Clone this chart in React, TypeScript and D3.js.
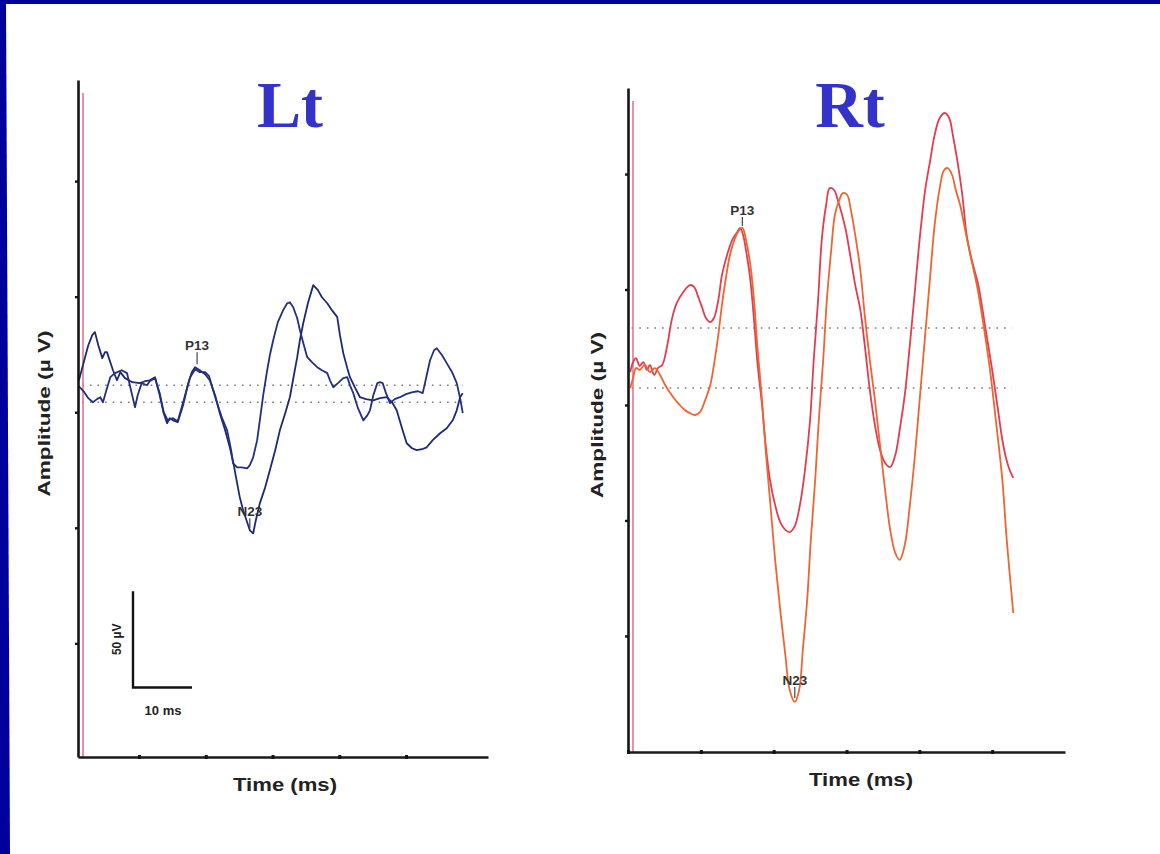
import React, { useEffect, useRef } from "react";
import * as d3 from "d3";

// sweeps are [time (ms), amplitude (µV)]
const ltSweepA: [number, number][] = [
  [1.0, 16.6], [1.8, 27.0], [2.4, 34.8], [3.0, 40.0], [3.4, 41.6], [3.9, 34.8], [4.5, 28.1], [4.9, 31.2],
  [5.2, 31.2], [5.7, 26.0], [6.1, 21.8], [6.7, 16.6], [7.2, 20.8], [7.9, 17.7], [9.0, 15.6], [10.1, 15.1],
  [10.9, 16.1], [11.6, 16.6], [12.4, 18.2], [13.1, 8.8], [13.7, -0.5], [14.2, -5.7], [14.6, -3.1], [15.1, -4.2],
  [15.8, -5.2], [16.6, 3.6], [17.3, 14.0], [17.9, 20.8], [18.4, 23.4], [19.1, 21.8], [19.9, 19.7], [20.6, 16.6],
  [21.4, 8.8], [22.1, -0.5], [22.9, -9.4], [23.6, -18.2], [24.2, -27.5], [24.7, -36.9], [25.1, -44.2], [25.6, -50.9],
  [26.2, -57.1], [26.6, -61.3], [27.1, -62.9], [27.5, -56.1], [28.1, -47.3], [28.9, -39.0], [29.6, -30.1], [30.4, -19.7],
  [31.1, -9.4], [31.9, -0.5], [32.6, 7.8], [33.2, 19.2], [33.7, 28.6], [34.1, 37.4], [34.6, 46.2], [35.3, 56.6],
  [36.1, 66.0], [36.8, 63.4], [37.4, 59.7], [38.2, 56.6], [38.9, 53.0], [39.7, 49.4], [40.1, 40.0], [40.6, 30.7],
  [41.2, 22.9], [41.6, 18.2], [42.4, 12.5], [43.1, 7.8], [44.0, 6.8], [45.1, 6.2], [46.1, 7.3], [47.1, 7.8],
  [47.9, 5.2], [48.6, 1.0], [49.4, -8.3], [50.1, -16.1], [50.9, -18.7], [51.6, -19.7], [52.4, -19.2], [53.1, -18.2],
  [54.0, -14.5], [55.1, -10.9], [56.1, -8.3], [57.0, -4.2], [57.6, 1.0], [58.1, 7.8], [58.5, 9.9],
];
const ltSweepB: [number, number][] = [
  [1.0, 13.5], [1.8, 10.4], [2.4, 7.3], [3.1, 5.2], [3.7, 6.8], [4.2, 7.8], [4.6, 5.2], [5.2, 12.5],
  [5.7, 18.2], [6.4, 20.3], [7.4, 21.8], [8.2, 20.3], [8.8, 11.4], [9.4, 2.6], [9.8, 8.8], [10.4, 15.1],
  [11.2, 14.0], [11.6, 16.1], [12.4, 17.7], [13.1, 9.9], [13.7, 0], [14.3, -4.2], [15.1, -3.1], [15.8, -4.7],
  [16.7, 6.2], [17.6, 17.7], [18.4, 22.3], [19.1, 20.8], [19.9, 20.8], [20.5, 18.7], [21.1, 11.4], [21.7, 4.7],
  [22.4, -2.6], [23.2, -9.4], [23.8, -19.7], [24.1, -26.5], [24.7, -28.6], [25.4, -28.6], [26.2, -29.1], [26.6, -27.5],
  [27.1, -23.4], [27.7, -14.5], [28.1, -4.2], [28.6, 8.8], [29.2, 21.8], [29.6, 29.6], [30.1, 37.4], [30.8, 46.8],
  [31.6, 53.0], [32.2, 56.6], [32.6, 57.1], [33.1, 54.5], [33.7, 48.8], [34.1, 42.6], [34.7, 34.8], [35.2, 28.6],
  [35.9, 26.0], [36.7, 23.4], [37.4, 21.8], [38.2, 20.3], [38.6, 16.6], [39.1, 13.0], [39.8, 15.1], [40.6, 17.7],
  [41.2, 18.2], [41.6, 14.0], [42.1, 9.9], [42.8, 2.1], [43.6, -4.2], [44.2, -1.6], [44.6, 1.0], [45.1, 8.8],
  [45.7, 15.1], [46.1, 15.6], [46.5, 15.1], [47.0, 9.9], [47.6, 4.7], [48.3, 6.8], [49.1, 7.8], [50.0, 9.4],
  [51.0, 10.4], [51.8, 10.9], [52.5, 9.9], [53.1, 19.2], [53.6, 27.0], [54.2, 32.2], [54.6, 33.2], [55.4, 29.6],
  [56.1, 25.5], [56.9, 20.8], [57.6, 15.1], [58.1, 7.3], [58.5, -0.5],
];
const rtSweepA: [number, number][] = [
  [0.3, 17.1], [0.7, 22.3], [1.1, 24.4], [1.6, 20.3], [2.1, 22.3], [2.6, 18.2], [3.0, 20.8], [3.6, 15.6],
  [4.1, 19.2], [4.7, 20.8], [5.4, 31.2], [6.0, 44.2], [6.7, 53.0], [7.6, 58.7], [8.5, 62.3], [9.1, 61.3],
  [9.6, 56.6], [10.2, 50.4], [10.7, 45.2], [11.3, 43.1], [11.8, 45.2], [12.4, 54.5], [12.9, 67.5], [13.6, 77.9],
  [14.3, 85.7], [15.0, 89.9], [15.4, 92.0], [15.8, 88.3], [16.2, 80.5], [16.8, 64.9], [17.3, 44.2], [17.8, 20.8],
  [18.4, 0], [18.9, -20.8], [19.5, -39.0], [20.2, -52.0], [20.9, -60.8], [21.6, -64.9], [22.2, -66.0], [22.9, -62.9],
  [23.6, -52.0], [24.3, -33.8], [25.0, -7.8], [25.5, 23.4], [26.1, 54.5], [26.6, 85.7], [27.2, 103.9], [27.7, 112.7],
  [28.3, 111.7], [28.8, 106.5], [29.4, 98.7], [29.9, 90.9], [30.5, 77.9], [31.2, 62.3], [31.9, 49.4], [32.5, 31.2],
  [33.2, 7.8], [33.9, -10.4], [34.6, -23.4], [35.3, -30.1], [36.0, -32.2], [36.7, -26.0], [37.3, -13.0], [38.0, 5.2],
  [38.7, 31.2], [39.4, 59.7], [40.1, 88.3], [40.8, 111.7], [41.5, 127.3], [42.1, 140.3], [42.8, 149.1], [43.5, 151.7],
  [44.1, 149.1], [44.6, 140.3], [45.2, 127.3], [45.9, 109.1], [46.5, 88.3], [47.2, 75.3], [48.1, 62.3], [49.0, 41.6],
  [50.0, 18.2], [50.8, -2.6], [51.4, -18.2], [51.9, -27.5], [52.4, -33.8], [52.9, -37.9],
];
const rtSweepB: [number, number][] = [
  [0.3, 8.8], [0.7, 14.0], [1.1, 19.2], [1.6, 18.2], [2.3, 20.8], [3.0, 17.1], [3.7, 19.2], [4.4, 15.6],
  [5.1, 10.4], [5.8, 6.2], [6.5, 2.6], [7.1, 0], [7.8, -2.6], [8.5, -4.2], [9.2, -5.2], [9.9, -3.6],
  [10.6, 2.6], [11.3, 10.4], [11.8, 20.8], [12.4, 36.4], [12.9, 52.0], [13.5, 67.5], [14.0, 77.9], [14.6, 85.7],
  [15.1, 89.9], [15.7, 92.0], [16.2, 85.7], [16.8, 72.7], [17.3, 54.5], [17.8, 28.6], [18.4, 2.6], [18.9, -23.4],
  [19.5, -49.4], [20.2, -80.5], [20.9, -106.5], [21.6, -129.9], [22.2, -148.1], [22.9, -154.3], [23.5, -148.1], [24.0, -127.3],
  [24.6, -101.3], [25.1, -70.1], [25.7, -39.0], [26.2, -7.8], [26.8, 23.4], [27.3, 54.5], [27.9, 80.5], [28.4, 98.7],
  [29.0, 106.5], [29.5, 110.1], [30.1, 109.1], [30.6, 101.3], [31.2, 88.3], [31.9, 70.1], [32.5, 46.8], [33.2, 23.4],
  [33.9, 2.6], [34.6, -20.8], [35.3, -44.2], [36.0, -64.9], [36.7, -76.9], [37.3, -80.5], [38.0, -72.7], [38.7, -52.0],
  [39.4, -26.0], [40.1, 5.2], [40.8, 36.4], [41.5, 67.5], [42.1, 93.5], [42.8, 112.7], [43.4, 122.1], [43.9, 123.1],
  [44.5, 119.5], [45.0, 111.7], [45.6, 103.9], [46.3, 90.9], [47.0, 77.9], [47.9, 62.3], [48.7, 44.2], [49.7, 18.2],
  [50.5, -7.8], [51.4, -39.0], [52.0, -70.1], [52.9, -108.1],
];

const ltBaselines = [14.0, 5.2];
const rtBaselines = [40.0, 8.8];
const ampTicks = [120, 60, 0, -60, -120];
const ltTimeTicks = [10, 20, 30, 40, 50];
const rtTimeTicks = [0, 10, 20, 30, 40, 50];
const ltPeaks = [
  { label: "P13", ms: 18.7, uv: 23.9, gap: 16 },
  { label: "N23", ms: 26.6, uv: -61.3, gap: 14 },
];
const rtPeaks = [
  { label: "P13", ms: 15.7, uv: 92.0, gap: 13 },
  { label: "N23", ms: 22.9, uv: -153.3, gap: 15 },
];

const SANS = "'Liberation Sans', Arial, sans-serif";

function Panel({ title, titleX, x, y, sweeps, colors, curve, baselines, baseSpan, peaks, timeTicks, ampLabelX, timeLabelX, scaleBar }) {
  const yAxisRef = useRef(null);
  const xAxisRef = useRef(null);
  const [x0, x1] = x.range();
  const [yBottom, yTop] = y.range();

  useEffect(() => {
    const gy = d3.select(yAxisRef.current);
    gy.selectAll("*").remove();
    gy.call(d3.axisLeft(y).tickValues(ampTicks).tickSize(3).tickSizeOuter(0).tickFormat(() => ""));
    gy.select(".domain").attr("stroke", "#151515").attr("stroke-width", 2.6);
    gy.selectAll(".tick line").attr("stroke", "#151515").attr("stroke-width", 2.4);

    const gx = d3.select(xAxisRef.current);
    gx.selectAll("*").remove();
    gx.call(d3.axisBottom(x).tickValues(timeTicks).tickSize(2).tickSizeOuter(0).tickFormat(() => ""));
    gx.select(".domain").attr("stroke", "#1a1a1a").attr("stroke-width", 2.6);
    gx.selectAll(".tick line").attr("stroke", "#151515").attr("stroke-width", 3).attr("y1", -2);
  }, [x, y, timeTicks]);

  const line = d3.line().x(d => x(d[0])).y(d => y(d[1])).curve(curve);

  return (
    <g>
      <text x={titleX} y={127} textAnchor="middle" fontFamily="'Liberation Serif', 'Times New Roman', serif"
        fontWeight="bold" fontSize={66} fill="#3333cc">{title}</text>

      {baselines.map((b, i) => (
        <line key={i} x1={x(baseSpan[0])} x2={x(baseSpan[1])} y1={y(b)} y2={y(b)}
          stroke="#7a7a7a" strokeWidth={1.4} strokeDasharray="1.6 6" />
      ))}

      <line x1={x0 + 5} x2={x0 + 5} y1={yTop + 13} y2={yBottom} stroke="#e07596" strokeWidth={1.6} />

      {sweeps.map((s, i) => (
        <path key={i} d={line(s)} fill="none" stroke={colors[i]} strokeWidth={1.8} strokeLinejoin="round" />
      ))}

      {peaks.map(p => (
        <g key={p.label} transform={`translate(${x(p.ms)},${y(p.uv)})`}>
          <line x1={0} x2={0} y1={-p.gap + 2} y2={-2} stroke="#444" strokeWidth={1.2} />
          <text y={-p.gap} textAnchor="middle" fontFamily={SANS} fontWeight="bold" fontSize={13.5}
            fill="#333">{p.label}</text>
        </g>
      ))}

      <g ref={yAxisRef} transform={`translate(${x0},0)`} />
      <g ref={xAxisRef} transform={`translate(0,${yBottom})`} />

      <text transform={`translate(${ampLabelX},${(yTop + yBottom) / 2 - 5}) rotate(-90)`} textAnchor="middle"
        fontFamily={SANS} fontWeight="bold" fontSize={17} fill="#222" textLength={166}
        lengthAdjust="spacingAndGlyphs">Amplitude (µ V)</text>
      <text x={timeLabelX} y={yBottom + 34} textAnchor="middle" fontFamily={SANS} fontWeight="bold"
        fontSize={18} fill="#222" textLength={104} lengthAdjust="spacingAndGlyphs">Time (ms)</text>

      {scaleBar && (
        <g>
          <path d={`M${x(scaleBar.ms)},${y(scaleBar.uv + scaleBar.barUv)}V${y(scaleBar.uv)}h${scaleBar.barW}`}
            fill="none" stroke="#111" strokeWidth={2.4} />
          <text transform={`translate(${x(scaleBar.ms) - 12},${y(scaleBar.uv + scaleBar.barUv / 2)}) rotate(-90)`}
            textAnchor="middle" fontFamily={SANS} fontWeight="bold" fontSize={12} fill="#222">50 µV</text>
          <text x={x(scaleBar.ms) + 30} y={y(scaleBar.uv) + 28} textAnchor="middle" fontFamily={SANS}
            fontWeight="bold" fontSize={13} fill="#222">10 ms</text>
        </g>
      )}
    </g>
  );
}

export default function App() {
  const xLt = d3.scaleLinear().domain([0.86, 62.28]).range([78, 488]);
  const yLt = d3.scaleLinear().domain([-179, 172.5]).range([757, 80]);
  const xRt = d3.scaleLinear().domain([0, 60]).range([628, 1065]);
  const yRt = d3.scaleLinear().domain([-180.3, 164.7]).range([752, 88]);

  return (
    <svg width={1160} height={854} style={{ position: "absolute", left: 0, top: 0, background: "#fff" }}>
      <rect width={1160} height={854} fill="#ffffff" />
      <rect x={0} y={0} width={1160} height={4} fill="#00009c" />
      <polygon points="0,0 6,0 10,854 0,854" fill="#00009c" />

      <Panel title="Lt" titleX={290} x={xLt} y={yLt} sweeps={[ltSweepA, ltSweepB]}
        colors={["#1d2a72", "#22307e"]} curve={d3.curveLinear} baselines={ltBaselines} baseSpan={[1.5, 58.5]}
        peaks={ltPeaks} timeTicks={ltTimeTicks} ampLabelX={50} timeLabelX={285}
        scaleBar={{ ms: 9.1, uv: -142.9, barUv: 50, barW: 59 }} />
      <Panel title="Rt" titleX={850} x={xRt} y={yRt} sweeps={[rtSweepA, rtSweepB]}
        colors={["#e33c50", "#eb6632"]} curve={d3.curveCatmullRom} baselines={rtBaselines} baseSpan={[0.5, 52.7]}
        peaks={rtPeaks} timeTicks={rtTimeTicks} ampLabelX={603} timeLabelX={861} scaleBar={null} />
    </svg>
  );
}
